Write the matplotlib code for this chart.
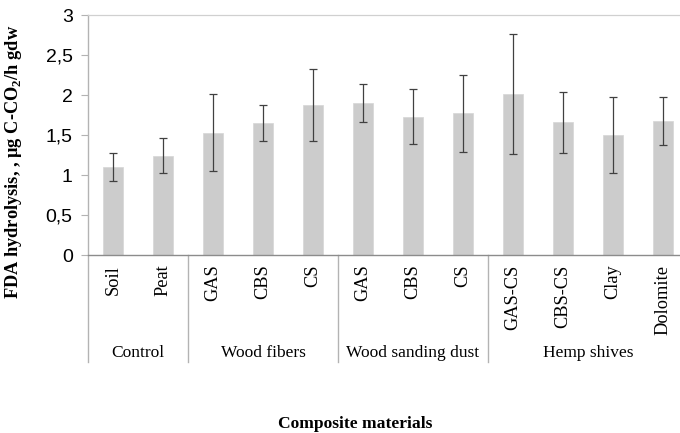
import numpy as np
import matplotlib
matplotlib.use('Agg')
import matplotlib.pyplot as plt
from matplotlib.transforms import blended_transform_factory

# data
categories = ['Soil', 'Peat', 'GAS', 'CBS', 'CS', 'GAS', 'CBS', 'CS',
              'GAS-CS', 'CBS-CS', 'Clay', 'Dolomite']
groups = ['Control', 'Wood fibers', 'Wood sanding dust', 'Hemp shives']
group_sizes = [2, 3, 3, 4]
means = [1.10, 1.24, 1.53, 1.65, 1.87, 1.90, 1.73, 1.77, 2.01, 1.66, 1.50, 1.67]
errors = [0.18, 0.22, 0.48, 0.22, 0.45, 0.24, 0.34, 0.48, 0.75, 0.38, 0.47, 0.30]
yticks = [0, 0.5, 1, 1.5, 2, 2.5, 3]

plt.rcParams['mathtext.fontset'] = 'custom'
plt.rcParams['mathtext.rm'] = 'Liberation Serif:bold'
plt.rcParams['mathtext.bf'] = 'Liberation Serif:bold'

W, H = 680, 433
fig = plt.figure(figsize=(W / 100, H / 100), dpi=100)
# plot area is wider than the figure (original image is cropped on the right)
n = len(categories)
slot = 50
left, top, bottom = 88, 15, 255
ax = fig.add_axes([left / W, (H - bottom) / H, n * slot / W, (bottom - top) / H])

x = np.arange(n)
ax.bar(x, means, width=0.4, color='#cccccc', edgecolor='#d9d9d9', linewidth=0.6, zorder=2)
ax.errorbar(x, means, yerr=errors, fmt='none', ecolor='#404040', elinewidth=0.9,
            capsize=3.2, capthick=0.9, zorder=3)

ax.set_xlim(-0.5, n - 0.5)
ax.set_ylim(0, 3)
ax.set_yticks(yticks)
ax.set_yticklabels([('%g' % v).replace('.', ',') for v in yticks],
                   fontfamily='Liberation Sans', fontsize=14)
ax.tick_params(axis='y', length=5, color='#b3b3b3', width=0.8, pad=6)

ax.set_xticks(x)
ax.set_xticklabels(categories, rotation=90, fontfamily='Liberation Serif',
                   fontsize=13.2, va='top')
ax.tick_params(axis='x', length=0, pad=7)

for s in ['left', 'right']:
    ax.spines[s].set_visible(False)
ax.spines['top'].set_color('#d0d0d0')
ax.spines['top'].set_linewidth(0.9)
ax.spines['bottom'].set_color('#8c8c8c')
ax.spines['bottom'].set_linewidth(1.0)

# multi-level category axis: separators and group names
trans = blended_transform_factory(ax.transData, ax.transAxes)
line_low = -(362 - bottom) / (bottom - top)
label_y = -(353 - bottom) / (bottom - top)
edges = np.concatenate([[0], np.cumsum(group_sizes)]) - 0.5
ax.plot([edges[0], edges[0]], [line_low, 1], transform=trans, color='#b3b3b3',
        lw=1.0, clip_on=False, zorder=1)
for e in edges[1:]:
    ax.plot([e, e], [line_low, 0], transform=trans, color='#b3b3b3',
            lw=1.0, clip_on=False)
for g, a, b in zip(groups, edges[:-1], edges[1:]):
    ax.text((a + b) / 2, label_y, g, transform=trans, ha='center', va='center',
            fontfamily='Liberation Serif', fontsize=12.5)

fig.text(14 / W, 1 - 162 / H, r'FDA hydrolysis, , µg C-CO$_{\mathrm{2}}$/h gdw',
         rotation=90, ha='center', va='center', fontfamily='Liberation Serif',
         fontweight='bold', fontsize=13.2)
fig.text(355 / W, 1 - 424 / H, 'Composite materials', ha='center', va='center',
         fontfamily='Liberation Serif', fontweight='bold', fontsize=12.6)

fig.savefig('out.png', dpi=100)
